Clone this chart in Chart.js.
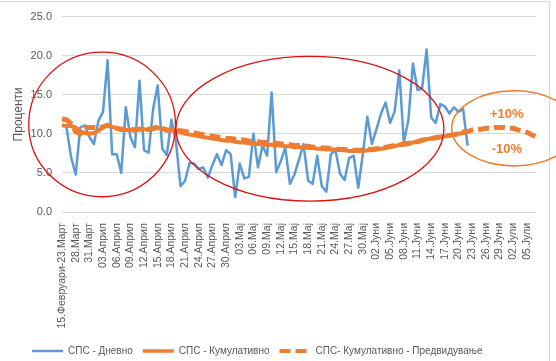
<!DOCTYPE html>
<html>
<head>
<meta charset="utf-8">
<script src="https://cdn.jsdelivr.net/npm/chart.js@4"></script>
<style>
html,body{margin:0;padding:0;background:#fff;}
#wrap{width:556px;height:361px;}
</style>
</head>
<body>
<div id="wrap"><canvas id="c" width="556" height="361"></canvas></div>
<script>
const categories = [
"15.Февруари-23.Март","26.Март","27.Март","28.Март","29.Март","30.Март","31.Март",
"01.Април","02.Април","03.Април","04.Април","05.Април","06.Април","07.Април","08.Април","09.Април","10.Април",
"11.Април","12.Април","13.Април","14.Април","15.Април","16.Април","17.Април","18.Април","19.Април","20.Април",
"21.Април","22.Април","23.Април","24.Април","25.Април","26.Април","27.Април","28.Април","29.Април","30.Април",
"01.Мај","02.Мај","03.Мај","04.Мај","05.Мај","06.Мај","07.Мај","08.Мај","09.Мај","10.Мај",
"11.Мај","12.Мај","13.Мај","14.Мај","15.Мај","16.Мај","17.Мај","18.Мај","19.Мај","20.Мај",
"21.Мај","22.Мај","23.Мај","24.Мај","25.Мај","26.Мај","27.Мај","28.Мај","29.Мај","30.Мај","31.Мај",
"01.Јуни","02.Јуни","03.Јуни","04.Јуни","05.Јуни","06.Јуни","07.Јуни","08.Јуни","09.Јуни","10.Јуни",
"11.Јуни","12.Јуни","13.Јуни","14.Јуни","15.Јуни","16.Јуни","17.Јуни","18.Јуни","19.Јуни","20.Јуни",
"21.Јуни","22.Јуни","23.Јуни","24.Јуни","25.Јуни","26.Јуни","27.Јуни","28.Јуни","29.Јуни","30.Јуни",
"01.Јули","02.Јули","03.Јули","04.Јули","05.Јули","06.Јули","07.Јули"
];

const seriesNames = ["СПС - Дневно", "СПС - Кумулативно", "СПС- Кумулативно - Предвидување"];

const dailySPS = [
null,10.8,7.0,4.8,10.8,11.1,9.6,8.7,11.7,12.8,
19.4,7.4,7.4,5.0,13.4,9.6,8.3,16.8,7.9,7.6,
13.2,16.2,8.1,7.3,11.8,9.0,3.3,4.0,6.3,6.2,
5.5,5.7,4.4,6.0,7.4,6.0,7.9,7.4,1.9,6.2,
4.3,4.5,10.0,5.7,8.5,7.2,15.3,5.1,6.5,8.2,
3.6,4.8,6.7,8.7,4.0,3.6,7.2,3.3,2.6,7.4,
7.9,4.9,4.1,6.9,7.2,3.1,7.4,12.2,8.7,10.6,
12.6,14.0,11.4,12.9,18.1,8.9,11.8,19.0,15.6,15.8,
20.8,12.1,11.4,13.8,13.5,12.6,13.4,12.8,13.2,8.5
];

const cumulativeSPS = [
11.1,11.0,11.0,10.8,10.3,10.1,10.0,10.1,10.4,10.8,
11.1,10.9,10.7,10.5,10.5,10.5,10.4,10.6,10.6,10.5,
10.6,10.8,10.6,10.4,10.5,10.4,10.2,10.0,9.9,9.8,
9.7,9.6,9.5,9.4,9.3,9.2,9.1,9.1,9.0,8.9,
8.9,8.8,8.7,8.7,8.6,8.6,8.6,8.5,8.5,8.4,
8.4,8.3,8.3,8.3,8.2,8.2,8.1,8.1,8.0,8.0,
8.0,7.9,7.9,7.8,7.8,7.8,7.8,7.9,7.9,8.0,
8.1,8.2,8.3,8.4,8.6,8.6,8.7,8.9,9.0,9.1,
9.3,9.4,9.5,9.6,9.7,9.8,9.9,10.0,10.1,10.3
];

const forecastSPS = [
11.9,11.8,11.3,10.3,10.0,10.8,10.8,10.8,10.7,10.9,
11.1,10.9,10.7,10.6,10.6,10.6,10.5,10.6,10.7,10.6,
10.7,10.9,10.7,10.5,10.5,10.5,10.4,10.3,10.2,10.1,
10.0,9.9,9.8,9.7,9.6,9.5,9.4,9.4,9.3,9.2,
9.2,9.1,9.0,9.0,8.9,8.9,8.8,8.8,8.7,8.7,
8.6,8.5,8.5,8.4,8.4,8.3,8.3,8.2,8.2,8.1,
8.1,8.0,8.0,8.0,7.9,7.9,7.9,8.0,8.0,8.1,
8.2,8.3,8.4,8.5,8.6,8.7,8.8,8.9,9.0,9.2,
9.3,9.4,9.5,9.6,9.7,9.8,9.9,10.0,10.2,10.3,
10.5,10.6,10.6,10.7,10.7,10.8,10.8,10.8,10.7,10.7,
10.5,10.4,10.2,9.9,9.6
];

const yMin = 0, yMax = 25, yStep = 5;
const labelEvery = 3;

const BLUE = '#5B9BD5', ORANGE = '#ED7D31', TEXT = '#595959', GRID = '#D9D9D9', RED = 'rgb(218,18,18)';

Chart.defaults.font.family = "'Liberation Sans', Arial, sans-serif";

const overlayPlugin = {
  id: 'overlay',
  beforeDraw(chart) {
    const ctx = chart.ctx;
    ctx.save();
    ctx.strokeStyle = GRID;
    ctx.lineWidth = 1;
    ctx.beginPath();
    ctx.moveTo(0, 1.5); ctx.lineTo(549.5, 1.5);
    ctx.moveTo(549.5, 1); ctx.lineTo(549.5, 361);
    ctx.stroke();
    ctx.restore();
  },
  afterLayout(chart) {
    if (chart.legend) { chart.legend.left = 22; }
  },
  afterDatasetsDraw(chart) {
    const {ctx, scales: {x, y}} = chart;
    const dx = x.getPixelForValue(1) - x.getPixelForValue(0);
    const dy = y.getPixelForValue(0) - y.getPixelForValue(1);
    const ell = (cx, cy, rx, ry, color, w) => {
      ctx.save();
      ctx.strokeStyle = color; ctx.lineWidth = w;
      ctx.beginPath();
      ctx.ellipse(x.getPixelForValue(cx), y.getPixelForValue(cy), rx * dx, ry * dy, 0, 0, Math.PI * 2);
      ctx.stroke();
      ctx.restore();
    };
    ell(8.8, 11.2, 16.1, 9.25, RED, 1.3);
    ell(54.4, 10.65, 29.4, 9.25, RED, 1.3);
    ell(99.2, 10.7, 13.7, 4.8, ORANGE, 1.5);
    ctx.save();
    ctx.fillStyle = ORANGE;
    ctx.font = "bold 13px 'Liberation Sans', Arial, sans-serif";
    ctx.textAlign = 'center';
    ctx.textBaseline = 'middle';
    ctx.fillText('+10%', x.getPixelForValue(97.6), y.getPixelForValue(12.5));
    ctx.fillText('-10%', x.getPixelForValue(97.6), y.getPixelForValue(8.05));
    ctx.restore();
  }
};

new Chart(document.getElementById('c'), {
  type: 'line',
  data: {
    labels: categories,
    datasets: [
      {label: seriesNames[0], data: dailySPS, borderColor: BLUE, backgroundColor: BLUE, borderWidth: 2.5, pointRadius: 0, tension: 0, order: 3, borderJoinStyle: 'round'},
      {label: seriesNames[1], data: cumulativeSPS, borderColor: ORANGE, backgroundColor: ORANGE, borderWidth: 4, pointRadius: 0, tension: 0, order: 2},
      {label: seriesNames[2], data: forecastSPS, borderColor: ORANGE, backgroundColor: ORANGE, borderWidth: 5, borderDash: [11, 5], pointRadius: 0, tension: 0, order: 1}
    ]
  },
  options: {
    responsive: false,
    animation: false,
    devicePixelRatio: 1,
    layout: {padding: {top: 14, right: 20, left: 0, bottom: -5}},
    scales: {
      x: {
        grid: {display: false},
        border: {display: false},
        ticks: {
          autoSkip: false, maxRotation: 90, minRotation: 90, padding: 3,
          color: TEXT, font: {size: 10.5},
          callback: (v, i) => (i % labelEvery === 0 ? categories[i] : null)
        },
        afterFit: s => { s.height = 124; }
      },
      y: {
        min: yMin, max: yMax,
        grid: {color: GRID, drawTicks: false, lineWidth: 1},
        border: {display: false},
        ticks: {stepSize: yStep, padding: 10, color: TEXT, font: {size: 11}, callback: v => Number(v).toFixed(1)},
        title: {display: true, text: 'Проценти', color: TEXT, font: {size: 12}, padding: {top: 11, bottom: 0}},
        afterFit: s => { s.width = 62; }
      }
    },
    plugins: {
      tooltip: {enabled: false},
      legend: {
        position: 'bottom',
        align: 'start',
        labels: {
          usePointStyle: true, pointStyleWidth: 31, boxHeight: 10, padding: 10,
          color: TEXT, font: {size: 10},
          generateLabels: chart => chart.data.datasets.map((d, i) => ({
            text: d.label, fillStyle: d.borderColor, strokeStyle: d.borderColor,
            lineWidth: i === 0 ? 2.5 : (i === 1 ? 3.5 : 4), lineDash: d.borderDash || [],
            pointStyle: 'line', hidden: false, datasetIndex: i, fontColor: TEXT
          }))
        }
      }
    }
  },
  plugins: [overlayPlugin]
});
</script>
</body>
</html>
